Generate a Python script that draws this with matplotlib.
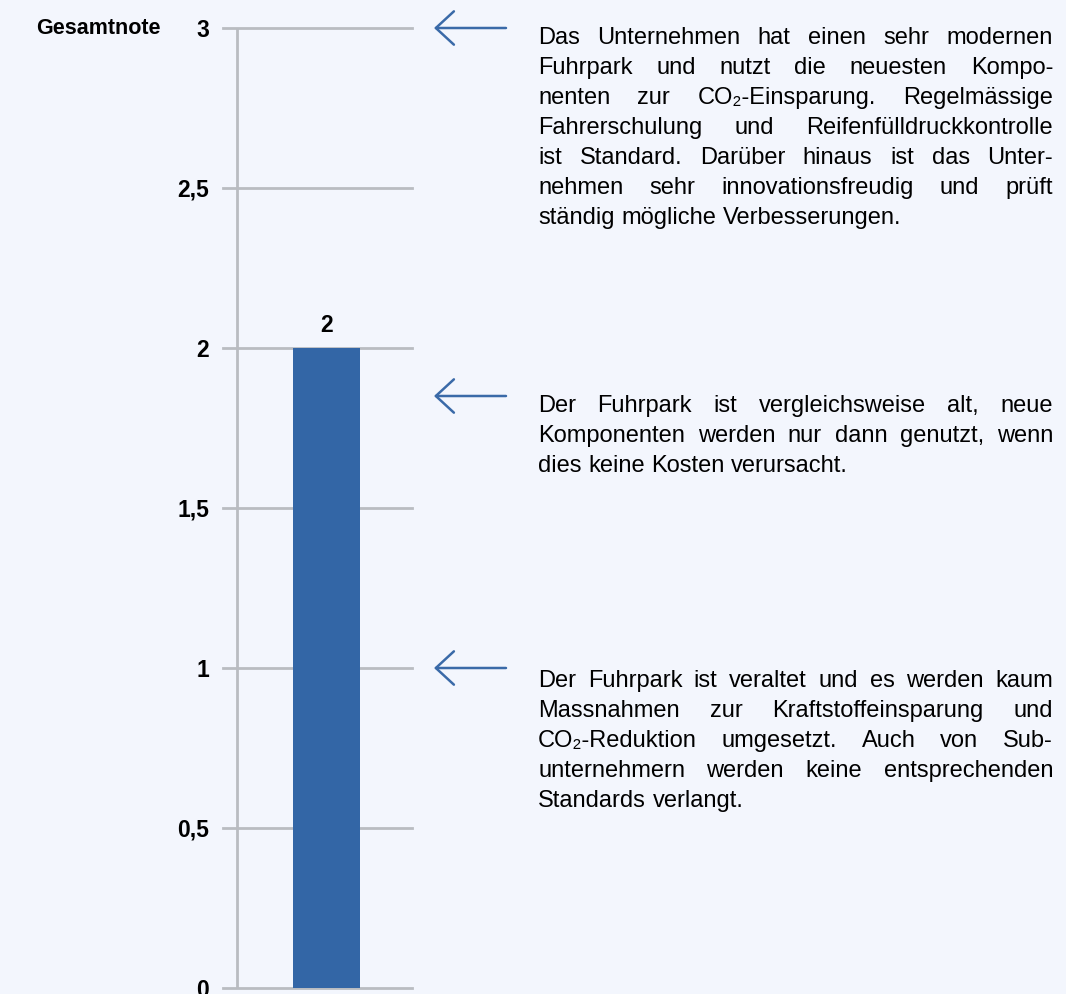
import matplotlib.pyplot as plt

plt.rcParams['font.family'] = ['Liberation Sans', 'DejaVu Sans']

# data
categories = ['Gesamtnote']
values = [2]
yticks = [0, 0.5, 1, 1.5, 2, 2.5, 3]
ytick_labels = ['0', '0,5', '1', '1,5', '2', '2,5', '3']
arrow_levels = [3, 1.85, 1]
descriptions = [
    ['Das Unternehmen hat einen sehr modernen',
     'Fuhrpark und nutzt die neuesten Kompo-',
     'nenten zur CO₂-Einsparung. Regelmässige',
     'Fahrerschulung und Reifenfülldruckkontrolle',
     'ist Standard. Darüber hinaus ist das Unter-',
     'nehmen sehr innovationsfreudig und prüft',
     'ständig mögliche Verbesserungen.'],
    ['Der Fuhrpark ist vergleichsweise alt, neue',
     'Komponenten werden nur dann genutzt, wenn',
     'dies keine Kosten verursacht.'],
    ['Der Fuhrpark ist veraltet und es werden kaum',
     'Massnahmen zur Kraftstoffeinsparung und',
     'CO₂-Reduktion umgesetzt. Auch von Sub-',
     'unternehmern werden keine entsprechenden',
     'Standards verlangt.'],
]
# first baseline of each text block (pixels from top)
text_tops = [44, 412, 687]

W, H = 1066, 994
bg = '#f3f6fd'
grid_col = '#b9bcc1'
bar_col = '#3366a6'

fig = plt.figure(figsize=(W / 100, H / 100), dpi=100, facecolor=bg)
ax = fig.add_axes([223 / W, 1 - 988 / H, (412 - 223) / W, (988 - 28) / H])
ax.set_facecolor(bg)
ax.set_ylim(0, 3)
ax.set_xlim(-0.77, 0.64)

for t in yticks:
    ax.axhline(t, color=grid_col, lw=2, zorder=1, clip_on=False)
ax.axvline(-0.665, color=grid_col, lw=2, zorder=1)

bars = ax.bar([0], values, width=0.5, color=bar_col, zorder=2)
for b, v in zip(bars, values):
    ax.text(b.get_x() + b.get_width() / 2, v + 0.035, str(v), ha='center', va='bottom',
            fontsize=16.5, fontweight='bold')

for s in ax.spines.values():
    s.set_visible(False)
ax.set_xticks([])
ax.set_yticks(yticks)
ax.set_yticklabels(ytick_labels, fontsize=16.5, fontweight='bold')
ax.tick_params(axis='y', length=0, pad=10)

fig.text(36 / W, 1 - 28 / H, categories[0], fontsize=15.5, fontweight='bold', va='center', ha='left')

# arrows
for lvl in arrow_levels:
    ax.annotate('', xy=(434, lvl), xycoords=('figure pixels', 'data'),
                xytext=(506, lvl), textcoords=('figure pixels', 'data'),
                arrowprops=dict(arrowstyle='->, head_length=0.65, head_width=0.6',
                                mutation_scale=20, color='#3a6aa8', lw=1.8,
                                shrinkA=0, shrinkB=0),
                annotation_clip=False)

# justified text blocks
renderer = fig.canvas.get_renderer()
x0, x1 = 538, 1053
line_h = 30
fs = 17


def word_width(w):
    t = fig.text(0, 0, w, fontsize=fs)
    bb = t.get_window_extent(renderer)
    t.remove()
    return bb.width


space_w = word_width('a a') - word_width('aa')
for block, top in zip(descriptions, text_tops):
    for i, line in enumerate(block):
        y = top + i * line_h
        words = line.split(' ')
        widths = [word_width(w) for w in words]
        last = i == len(block) - 1
        if last or len(words) == 1:
            gap = space_w
        else:
            gap = (x1 - x0 - sum(widths)) / (len(words) - 1)
        x = x0
        for w, ww in zip(words, widths):
            fig.text(x / W, 1 - y / H, w, fontsize=fs, va='baseline', ha='left')
            x += ww + gap

fig.savefig('out.png', dpi=100, facecolor=bg)
